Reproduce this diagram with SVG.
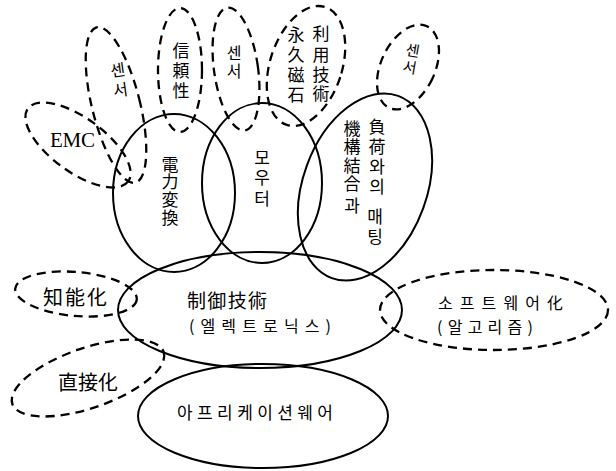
<svg xmlns="http://www.w3.org/2000/svg" width="616" height="471" viewBox="0 0 616 471">
<style>
.solid{fill:none;stroke:#000;stroke-width:2}
.dash{fill:none;stroke:#000;stroke-width:2.3;stroke-dasharray:9 6}
.t{font-family:"Noto Sans CJK KR","Noto Sans CJK JP",sans-serif;fill:#000;text-anchor:middle}
.h{font-family:"Noto Sans CJK KR","Noto Sans CJK JP",sans-serif;fill:#000}
</style>
<rect width="616" height="471" fill="#fff"/>
<g id="connectors"></g>
<g id="n-emc">
<ellipse class="dash" cx="78" cy="145" rx="62" ry="27" transform="rotate(36 78 145)"/>
<text x="50" y="147" font-family="Liberation Serif,serif" font-size="21" textLength="45">EMC</text>
</g>
<g id="n-sensor1">
<ellipse class="dash" cx="116" cy="105" rx="24" ry="80" transform="rotate(-14 116 105)"/>
<text class="t" font-size="16" transform="rotate(-8 119 80)"><tspan x="119" y="76">센</tspan><tspan x="119" y="96">서</tspan></text>
</g>
<g id="n-reliability">
<ellipse class="dash" cx="180" cy="70" rx="22" ry="62"/>
<text class="t" font-size="17"><tspan x="181" y="57">信</tspan><tspan x="181" y="77">頼</tspan><tspan x="181" y="97">性</tspan></text>
</g>
<g id="n-sensor2">
<ellipse class="dash" cx="236" cy="69" rx="22" ry="62" transform="rotate(-8 236 69)"/>
<text class="t" font-size="16"><tspan x="234" y="59">센</tspan><tspan x="234" y="77">서</tspan></text>
</g>
<g id="n-magnet">
<ellipse class="dash" cx="306" cy="66" rx="36" ry="62" transform="rotate(18 306 66)"/>
<text class="t" font-size="17"><tspan x="296" y="41">永</tspan><tspan x="296" y="61">久</tspan><tspan x="296" y="81">磁</tspan><tspan x="296" y="101">石</tspan></text>
<text class="t" font-size="17"><tspan x="321" y="40">利</tspan><tspan x="321" y="61">用</tspan><tspan x="321" y="81">技</tspan><tspan x="321" y="100">術</tspan></text>
</g>
<g id="n-sensor3">
<ellipse class="dash" cx="408" cy="67" rx="27" ry="45" transform="rotate(25 408 67)"/>
<text class="t" font-size="15" transform="rotate(10 411 60)"><tspan x="411" y="56">센</tspan><tspan x="411" y="73">서</tspan></text>
</g>
<g id="n-power">
<ellipse class="solid" cx="174" cy="193" rx="61" ry="79"/>
<text class="t" font-size="17"><tspan x="170" y="171">電</tspan><tspan x="170" y="188">力</tspan><tspan x="170" y="206">変</tspan><tspan x="170" y="224">換</tspan></text>
</g>
<g id="n-motor">
<ellipse class="solid" cx="262" cy="183" rx="60" ry="80"/>
<text class="t" font-size="17"><tspan x="262" y="164">모</tspan><tspan x="262" y="184">우</tspan><tspan x="262" y="205">터</tspan></text>
</g>
<g id="n-load">
<ellipse class="solid" cx="365" cy="187" rx="62" ry="97" transform="rotate(20 365 187)"/>
<text class="t" font-size="17"><tspan x="352" y="135">機</tspan><tspan x="352" y="153">構</tspan><tspan x="352" y="172">結</tspan><tspan x="352" y="190">合</tspan><tspan x="352" y="212">과</tspan></text>
<text class="t" font-size="17"><tspan x="377" y="133">負</tspan><tspan x="377" y="153">荷</tspan><tspan x="377" y="173">와</tspan><tspan x="377" y="193">의</tspan><tspan x="375" y="223">매</tspan><tspan x="375" y="243">팅</tspan></text>
</g>
<g id="n-intelligent">
<ellipse class="dash" cx="76" cy="294" rx="61" ry="22" transform="rotate(5 76 294)"/>
<text class="h" x="43" y="305" font-size="20" textLength="64">知能化</text>
</g>
<g id="n-direct">
<ellipse class="dash" cx="88" cy="378" rx="80" ry="30" transform="rotate(-19 88 378)"/>
<text class="h" x="58" y="390" font-size="20" textLength="60">直接化</text>
</g>
<g id="n-control">
<ellipse class="solid" cx="260" cy="310" rx="142" ry="58"/>
<text class="h" x="187" y="308" font-size="19" textLength="80">制御技術</text>
<text class="h" x="189" y="332" font-size="16" textLength="142">(엘렉트로닉스)</text>
</g>
<g id="n-software">
<ellipse class="dash" cx="494" cy="310" rx="114" ry="40"/>
<text class="h" x="438" y="309" font-size="16" textLength="125">소프트웨어化</text>
<text class="h" x="437" y="333" font-size="16" textLength="96">(알고리즘)</text>
</g>
<g id="n-application">
<ellipse class="solid" cx="263" cy="416" rx="125" ry="52"/>
<text class="h" x="177" y="419" font-size="17" textLength="156">아프리케이션웨어</text>
</g>
</svg>
